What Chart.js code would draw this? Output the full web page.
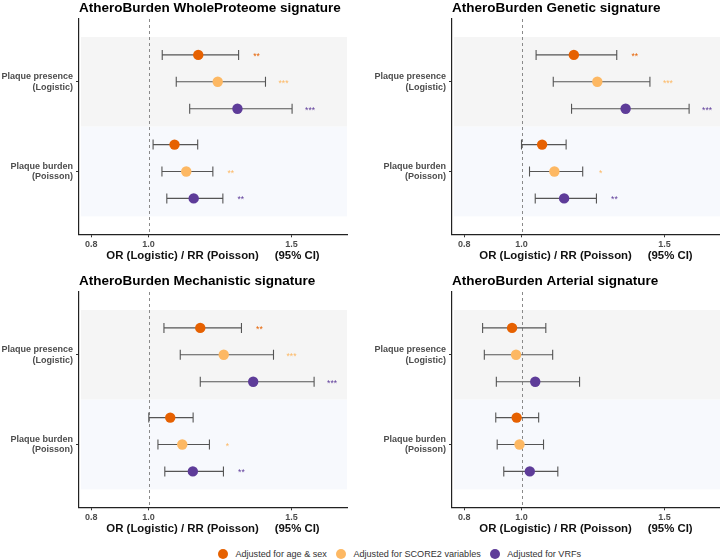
<!DOCTYPE html>
<html>
<head>
<meta charset="utf-8">
<script src="https://cdn.jsdelivr.net/npm/chart.js@4.4.1/dist/chart.umd.min.js"></script>
<style>
  html, body { margin: 0; padding: 0; background: #fff; }
  body { width: 720px; height: 560px; position: relative; overflow: hidden;
         font-family: "Liberation Sans", Arial, sans-serif; }
  .panel { position: absolute; width: 360px; height: 270px; }
  #legend { position: absolute; left: 79px; width: 641px; top: 546px; height: 16px;
            display: flex; justify-content: center; align-items: center;
            font-size: 9.1px; color: #333; }
  .item { display: flex; align-items: center; margin-left: 9px; }
  .item:first-child { margin-left: 0; }
  .dot { width: 10px; height: 10px; border-radius: 50%; margin-right: 7.5px; }
</style>
</head>
<body>
<div class="panel" style="left:0;top:0"><canvas id="c0"></canvas></div>
<div class="panel" style="left:360px;top:0"><canvas id="c1"></canvas></div>
<div class="panel" style="left:0;top:273px"><canvas id="c2"></canvas></div>
<div class="panel" style="left:360px;top:273px"><canvas id="c3"></canvas></div>
<div id="legend"></div>
<script>
const panelTitles = [
    'AtheroBurden WholeProteome signature',
    'AtheroBurden Genetic signature',
    'AtheroBurden Mechanistic signature',
    'AtheroBurden Arterial signature'
];
const outcomeLabels = [['Plaque presence', '(Logistic)'], ['Plaque burden', '(Poisson)']];
const outcomeRows = [2, 1];
const models = ['Adjusted for age & sex', 'Adjusted for SCORE2 variables', 'Adjusted for VRFs'];
const modelColors = ['#e66101', '#fdb863', '#5e3c99'];
const xTicks = [0.8, 1.0, 1.5];
const axisTitle = 'OR (Logistic) / RR (Poisson)     (95% CI)';

// order: presence (age&sex, SCORE2, VRFs), then burden (age&sex, SCORE2, VRFs)
const proteomeEst  = [1.174, 1.242, 1.311, 1.091, 1.132, 1.158];
const proteomeLow  = [1.048, 1.097, 1.144, 1.016, 1.047, 1.064];
const proteomeHigh = [1.315, 1.409, 1.502, 1.172, 1.225, 1.260];
const proteomeSig  = ['**', '***', '***', '', '**', '**'];

const geneticEst  = [1.183, 1.265, 1.364, 1.072, 1.115, 1.149];
const geneticLow  = [1.051, 1.111, 1.175, 1.000, 1.028, 1.048];
const geneticHigh = [1.333, 1.449, 1.586, 1.156, 1.214, 1.262];
const geneticSig  = ['**', '***', '***', '', '*', '**'];

const mechEst  = [1.181, 1.263, 1.366, 1.076, 1.118, 1.155];
const mechLow  = [1.054, 1.111, 1.181, 1.001, 1.033, 1.057];
const mechHigh = [1.325, 1.437, 1.579, 1.156, 1.213, 1.262];
const mechSig  = ['**', '***', '***', '', '*', '**'];

const arterialEst  = [0.967, 0.981, 1.048, 0.983, 0.993, 1.029];
const arterialLow  = [0.864, 0.870, 0.912, 0.910, 0.915, 0.938];
const arterialHigh = [1.085, 1.109, 1.203, 1.060, 1.077, 1.127];
const arterialSig  = ['', '', '', '', '', ''];

const panels = [
    { est: proteomeEst, low: proteomeLow, high: proteomeHigh, sig: proteomeSig },
    { est: geneticEst, low: geneticLow, high: geneticHigh, sig: geneticSig },
    { est: mechEst, low: mechLow, high: mechHigh, sig: mechSig },
    { est: arterialEst, low: arterialLow, high: arterialHigh, sig: arterialSig }
];

const dodge = [0.3, 0, -0.3];
const bandColors = ['#f5f5f5', '#f7f9fd'];
const tickFont = { family: '"Liberation Sans", Arial, sans-serif', size: 9, weight: 'bold' };

// bands, reference line, error bars and significance stars for one panel
function forestPlugin(p) {
    return {
        id: 'forest',
        beforeDatasetsDraw(chart) {
            const { ctx, chartArea: a, scales: { x, y } } = chart;
            ctx.save();
            outcomeRows.forEach((row, o) => {
                const top = y.getPixelForValue(row + 0.5);
                const bottom = y.getPixelForValue(row - 0.5);
                ctx.fillStyle = bandColors[o];
                ctx.fillRect(a.left + 2, top, a.right - a.left - 2, bottom - top);
            });

            const x1 = Math.round(x.getPixelForValue(1)) + 0.5;
            ctx.strokeStyle = '#8a8a8a';
            ctx.lineWidth = 1;
            ctx.setLineDash([3, 3]);
            ctx.beginPath();
            ctx.moveTo(x1, a.top);
            ctx.lineTo(x1, a.bottom);
            ctx.stroke();
            ctx.setLineDash([]);

            ctx.strokeStyle = '#555';
            ctx.lineWidth = 1.1;
            outcomeRows.forEach((row, o) => {
                models.forEach((m, k) => {
                    const i = o * 3 + k;
                    const py = y.getPixelForValue(row + dodge[k]);
                    const lo = x.getPixelForValue(p.low[i]);
                    const hi = x.getPixelForValue(p.high[i]);
                    ctx.beginPath();
                    ctx.moveTo(lo, py); ctx.lineTo(hi, py);
                    ctx.moveTo(lo, py - 5); ctx.lineTo(lo, py + 5);
                    ctx.moveTo(hi, py - 5); ctx.lineTo(hi, py + 5);
                    ctx.stroke();
                });
            });
            ctx.restore();
        },
        afterDatasetsDraw(chart) {
            const { ctx, scales: { x, y } } = chart;
            ctx.save();
            ctx.font = '8.6px "Liberation Sans", Arial, sans-serif';
            ctx.textAlign = 'center';
            ctx.textBaseline = 'alphabetic';
            outcomeRows.forEach((row, o) => {
                models.forEach((m, k) => {
                    const i = o * 3 + k;
                    if (!p.sig[i]) return;
                    const py = y.getPixelForValue(row + dodge[k]);
                    ctx.fillStyle = modelColors[k];
                    ctx.fillText(p.sig[i], x.getPixelForValue(p.high[i]) + 18, py + 4);
                });
            });
            ctx.restore();
        }
    };
}

function makeChart(id, idx) {
    const p = panels[idx];
    const col = idx % 2;
    return new Chart(document.getElementById(id), {
        type: 'scatter',
        data: {
            datasets: models.map((label, k) => ({
                label: label,
                backgroundColor: modelColors[k],
                borderWidth: 0,
                pointRadius: 5.2,
                pointHoverRadius: 5.2,
                data: outcomeRows.map((row, o) => ({ x: p.est[o * 3 + k], y: row + dodge[k] }))
            }))
        },
        options: {
            responsive: true,
            maintainAspectRatio: false,
            devicePixelRatio: 1,
            animation: false,
            layout: {
                autoPadding: false,
                padding: { left: 0, right: col === 0 ? 13 : 0, top: 0, bottom: 0 }
            },
            scales: {
                x: {
                    type: 'linear',
                    min: 0.757,
                    max: 1.694,
                    afterBuildTicks: s => { s.ticks = xTicks.map(v => ({ value: v })); },
                    afterFit: s => { s.height = 35.7; s.paddingLeft = 0; s.paddingRight = 0; },
                    ticks: {
                        autoSkip: false,
                        maxRotation: 0,
                        padding: 2,
                        color: '#4d4d4d',
                        font: tickFont,
                        callback: v => v.toFixed(1)
                    },
                    grid: { drawOnChartArea: false, tickLength: 3, color: '#333', lineWidth: 1 },
                    border: { display: true, color: '#222', width: 1.2 },
                    title: {
                        display: true,
                        text: axisTitle,
                        color: '#111',
                        font: { family: '"Liberation Sans", Arial, sans-serif', size: 11.4, weight: 'bold' },
                        padding: { top: 0, bottom: 7 }
                    }
                },
                y: {
                    type: 'linear',
                    min: 0.3,
                    max: 2.7,
                    afterBuildTicks: s => { s.ticks = outcomeRows.map(v => ({ value: v })); },
                    afterFit: s => { s.width = col === 0 ? 79 : 92; s.paddingTop = 0; s.paddingBottom = 0; },
                    ticks: {
                        autoSkip: false,
                        padding: 3,
                        color: '#4d4d4d',
                        font: tickFont,
                        callback: v => outcomeLabels[outcomeRows.indexOf(v)]
                    },
                    grid: { drawOnChartArea: false, tickLength: 3, color: '#333', lineWidth: 1 },
                    border: { display: true, color: '#222', width: 1.2 }
                }
            },
            plugins: {
                legend: { display: false },
                tooltip: { enabled: false },
                title: {
                    display: true,
                    text: panelTitles[idx],
                    align: 'start',
                    fullSize: false,
                    color: '#000',
                    font: { family: '"Liberation Sans", Arial, sans-serif', size: 13.5, weight: 'bold' },
                    padding: { top: 0, bottom: 2.8 }
                }
            }
        },
        plugins: [forestPlugin(p)]
    });
}

['c0', 'c1', 'c2', 'c3'].forEach((id, i) => makeChart(id, i));

// shared legend
const legend = document.getElementById('legend');
legend.innerHTML = models.map((label, k) =>
    `<div class="item"><span class="dot" style="background:${modelColors[k]}"></span>${label.replace('&', '&amp;')}</div>`
).join('');
</script>
</body>
</html>
